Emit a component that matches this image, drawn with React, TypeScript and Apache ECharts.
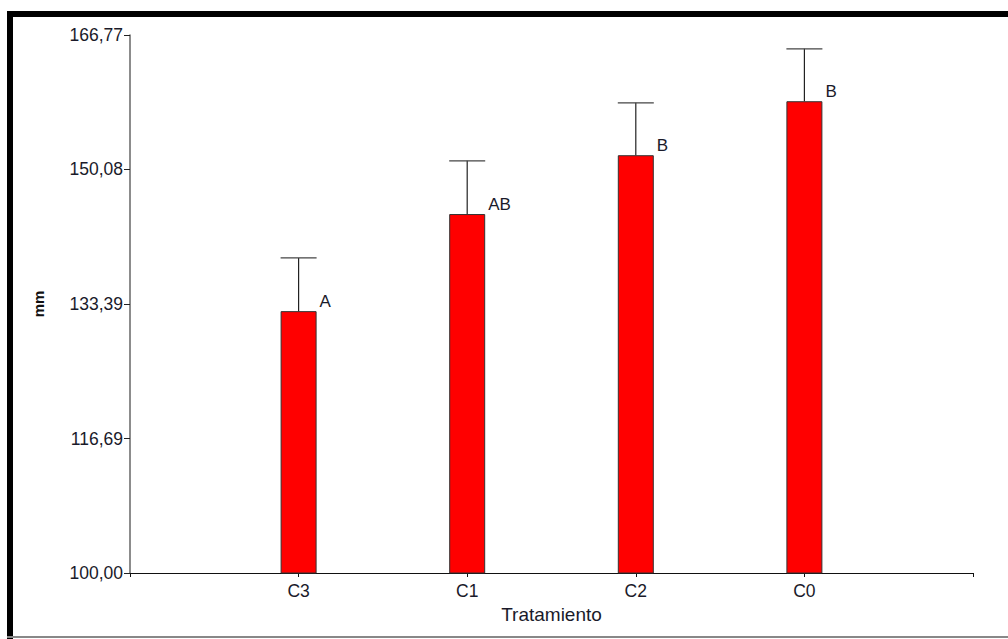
import React, { useEffect, useRef } from "react";
import * as echarts from "echarts";

const categories = ["", "C3", "C1", "C2", "C0", ""];
const means = [null, 132.5, 144.55, 151.85, 158.55, null];
const upper = [null, 139.1, 151.15, 158.35, 165.05, null];
const letters = ["", "A", "AB", "B", "B", ""];
const yTicks = [100.0, 116.69, 133.39, 150.08, 166.77];

export default function App() {
  const ref = useRef<HTMLDivElement>(null);
  useEffect(() => {
    const chart = echarts.init(ref.current!, null, { renderer: "svg" });
    const barW = 36;
    const font = "Liberation Sans, Arial, sans-serif";
    const errData = categories.map((c, i) => [i, means[i], upper[i], letters[i]]).filter((d) => d[1] !== null);
    chart.setOption({
      animation: false,
      backgroundColor: "#ffffff",
      textStyle: { fontFamily: font },
      grid: { left: 130, right: 35, top: 35, bottom: 66 },
      xAxis: {
        type: "category",
        data: categories,
        boundaryGap: false,
        name: "Tratamiento",
        nameLocation: "middle",
        nameGap: 30,
        nameTextStyle: { fontSize: 19, color: "#1a1a2a" },
        axisLine: { lineStyle: { color: "#111", width: 1 } },
        axisTick: { show: true, length: 4, lineStyle: { color: "#111" }, interval: 0 },
        axisLabel: { fontSize: 17.5, color: "#1a1a2a", margin: 9, interval: 0 },
        splitLine: { show: false },
      },
      yAxis: {
        type: "value",
        min: 100,
        max: 166.77,
        name: "mm",
        nameLocation: "middle",
        nameGap: 84,
        nameTextStyle: { fontSize: 15, fontWeight: "bold", color: "#111" },
        axisLine: { show: true, lineStyle: { color: "#666", width: 1.5 } },
        axisTick: { show: true, length: 6, lineStyle: { color: "#222" }, customValues: yTicks },
        axisLabel: {
          fontSize: 17.5,
          color: "#1a1a2a",
          margin: 7,
          customValues: yTicks,
          formatter: (v: number) => v.toFixed(2).replace(".", ","),
        },
        splitLine: { show: false },
      },
      graphic: [
        { type: "rect", shape: { x: 7, y: 11, width: 1001, height: 6 }, style: { fill: "#000" }, z: 100 },
        { type: "rect", shape: { x: 7, y: 11, width: 6, height: 628 }, style: { fill: "#000" }, z: 100 },
        { type: "rect", shape: { x: 7, y: 636, width: 1001, height: 2 }, style: { fill: "#888" }, z: 100 },
      ],
      series: [
        {
          type: "bar",
          data: means,
          barWidth: barW,
          itemStyle: { color: "#ff0000", borderColor: "#333", borderWidth: 1 },
          z: 2,
        },
        {
          type: "custom",
          data: errData,
          z: 3,
          renderItem: (params: any, api: any) => {
            const x = api.value(0);
            const top = api.coord([x, api.value(1)]);
            const up = api.coord([x, api.value(2)]);
            const cx = top[0];
            return {
              type: "group",
              children: [
                {
                  type: "line",
                  shape: { x1: cx, y1: top[1], x2: cx, y2: up[1] },
                  style: { stroke: "#222", lineWidth: 1.2 },
                },
                {
                  type: "line",
                  shape: { x1: cx - barW / 2, y1: up[1], x2: cx + barW / 2, y2: up[1] },
                  style: { stroke: "#444", lineWidth: 1.2 },
                },
                {
                  type: "text",
                  x: cx + barW / 2 + 3,
                  y: top[1] - 1,
                  style: {
                    text: String(api.value(3)),
                    fontSize: 17,
                    fill: "#1a1a2a",
                    fontFamily: font,
                    textAlign: "left",
                    textVerticalAlign: "bottom",
                  },
                },
              ],
            };
          },
        },
      ],
    });
    return () => chart.dispose();
  }, []);
  return <div ref={ref} style={{ position: "fixed", left: 0, top: 0, width: 1008, height: 639 }} />;
}
